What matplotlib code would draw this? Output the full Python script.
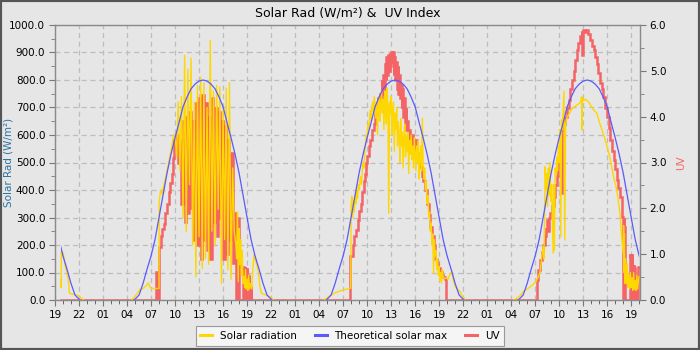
import numpy as np
import matplotlib.pyplot as plt
from matplotlib.patches import Rectangle
from matplotlib.lines import Line2D
from matplotlib.ticker import MultipleLocator, FormatStrFormatter

# time axis: hours counted from 19:00 of the first (partial) day
tick_labels = ['19', '22', '01', '04', '07', '10', '13', '16'] * 3 + ['19']

# theoretical clear-sky maximum, hours from solar noon -> W/m2
clear_offset = [-8.6, -8, -7.5, -7, -6.5, -6, -5.5, -5, -4.5, -4, -3.5, -3, -2.5, -2, -1.5, -1, -0.5, 0,
                0.5, 1, 1.5, 2, 2.5, 3, 3.5, 4, 4.5, 5, 5.5, 6, 6.5, 7, 7.5, 8, 8.6]
clear_wm2 = [0, 18, 60, 112, 160, 220, 300, 380, 462, 530, 590, 645, 703, 738, 768, 785, 796, 800,
             796, 785, 768, 738, 703, 645, 590, 530, 462, 380, 300, 220, 160, 112, 60, 18, 0]
solar_noon = [-5.5, 18.5, 42.5, 66.5]
data_start, data_end = 0.8, 73.0

# solar radiation (W/m2)
sun0_t = [0.72, 0.76, 0.80, 0.9, 1.04, 1.25, 1.46, 1.67, 1.79, 2.0, 2.4, 2.7, 3.1, 3.55]
sun0_w = [72, 45, 178, 175, 168, 127, 103, 73, 26, 22, 20, 18, 12, 0]

sun1_t = [9.55, 9.9, 10.3, 10.6, 11.0, 11.4, 11.67, 11.85, 12.0, 12.5, 13.0,
          13.02, 13.2, 13.4, 13.6, 13.8, 14.0, 14.2, 14.4, 14.6, 14.8]
sun1_w = [0, 10, 25, 38, 42, 52, 62, 48, 42, 42, 42,
          360, 400, 385, 420, 440, 470, 500, 530, 560, 600]
# 12-minute readings from 15.0 h
sun1_noisy = [600, 520, 720, 470, 740, 300, 890, 250, 840, 420,
              880, 200, 720, 85, 780, 230, 810, 115, 790, 150,
              700, 130, 945, 250, 760, 200, 780, 330, 775, 60,
              690, 220, 770, 110, 790, 75, 480, 250, 200]
sun1_eve_t = [22.7, 22.8, 22.9, 23.0, 23.1, 23.2, 23.3, 23.4, 23.5, 23.6, 23.7, 23.8, 23.9, 24.0,
              24.1, 24.2, 24.3, 24.4, 24.5, 24.6, 24.7, 24.8, 24.9, 25.0, 25.2, 25.4, 25.6, 25.8,
              26.2, 26.6, 27.0, 27.3]
sun1_eve_w = [150, 320, 67, 260, 130, 220, 90, 180, 60, 85, 45, 110, 40, 75,
              35, 90, 40, 60, 50, 40, 100, 140, 165, 150, 130, 105, 50, 24,
              20, 15, 8, 0]

sun2_t = [33.65, 34.0, 34.5, 35.0, 35.5, 36.0, 36.5, 36.95]
sun2_w = [0, 8, 18, 26, 32, 36, 40, 43]
# 6-minute readings from 37.0 h
sun2_noisy = [340, 376, 300, 360, 320, 380, 350, 400, 370, 420,
              400, 430, 450, 420, 470, 500, 480, 540, 560, 600,
              590, 640, 620, 660, 690, 650, 700, 720, 680, 740,
              700, 660, 720, 600, 690, 740, 650, 710, 760, 680,
              730, 620, 760, 690, 640, 770, 700, 315, 720, 680,
              740, 600, 690, 720, 540, 680, 620, 700, 560, 650,
              600, 500, 660, 560, 610, 480, 590, 640, 520, 600,
              540, 610, 460, 580, 530, 600, 510, 560, 480, 590,
              530, 470, 560, 500, 580, 440, 520, 560, 470, 660,
              500, 440, 480, 400, 430, 350, 380, 300, 320, 250,
              280, 200, 240, 97, 220, 160, 180, 110, 150, 90,
              121, 70, 100, 61, 110]
sun2_eve_t = [48.5, 48.7, 48.9, 49.1, 49.3, 49.6, 49.8, 50.0, 50.3, 50.6, 50.9, 51.25]
sun2_eve_w = [84, 78, 80, 75, 90, 103, 70, 50, 40, 30, 15, 0]

sun3_t = [57.3, 57.8, 58.2, 58.5, 59.0, 59.4, 59.8, 60.1, 60.4, 60.6, 60.8, 61.0, 61.1, 61.2,
          61.25, 61.35, 61.45, 61.55, 61.65, 61.75, 61.85, 61.95, 62.05, 62.15, 62.25, 62.3,
          62.4, 62.5, 62.6, 62.7, 62.8, 62.9, 63.0, 63.1, 63.2, 63.3, 63.4, 63.5, 63.6, 63.7,
          63.8, 63.9, 64.0, 64.3, 64.6, 65.0, 65.4, 65.7, 65.8, 65.85, 65.9, 66.1, 66.3, 66.5,
          66.8, 67.0, 67.3, 67.7, 68.1, 68.5, 69.0, 69.4, 69.8, 70.2, 70.6, 70.8, 71.0, 71.05,
          71.1, 71.15, 71.2, 71.3, 71.4, 71.5, 71.6, 71.7, 71.8, 71.9, 72.0, 72.1, 72.2, 72.3,
          72.4, 72.5, 72.6, 72.7, 72.8, 72.95]
sun3_w = [0, 8, 18, 30, 40, 48, 58, 67, 85, 100, 150, 194, 150, 390,
          485, 400, 460, 340, 480, 380, 500, 360, 420, 300, 170, 420,
          180, 480, 450, 520, 470, 560, 500, 620, 230, 655, 620, 690, 760, 218,
          640, 655, 665, 680, 695, 705, 712, 720, 740, 618, 735, 725, 730, 725,
          715, 705, 691, 680, 640, 606, 558, 509, 448, 400, 315, 230, 170, 270,
          100, 240, 60, 150, 60, 130, 45, 90, 40, 100, 45, 80, 35, 100,
          40, 70, 35, 90, 40, 85]

# UV index
uv1_t = [0.8, 12.6, 12.65, 12.7, 12.75, 12.8, 12.85, 12.9, 12.95, 13.0,
         13.04, 13.2, 13.4, 13.6, 13.8, 14.0, 14.2, 14.4, 14.6, 14.8, 14.9]
uv1_v = [0, 0, 0.62, 0, 0.6, 0, 0.62, 0, 0.58, 0,
         1.16, 1.4, 1.55, 1.65, 1.9, 2.1, 2.35, 2.55, 2.75, 3.1, 3.5]
# 12-minute readings from 15.0 h
uv1_noisy = [3.3, 3.6, 3.0, 3.5, 2.1, 3.9, 1.7, 4.0, 1.9, 4.1,
             2.0, 3.9, 1.3, 4.3, 1.2, 4.4, 0.9, 4.47, 1.3, 4.3,
             1.1, 4.0, 0.9, 4.4, 1.7, 4.2, 1.4, 4.1, 1.8, 3.9,
             0.9, 3.8, 1.0, 3.5, 1.3, 3.2, 0.8, 1.9, 1.5]
# 3-minute readings from 22.65 h (sensor flickering at dusk)
uv1_dusk_a = [0, 1.7, 0, 1.5, 0, 1.8, 0, 1.2, 0, 0]
# 3-minute readings from 23.55 h
uv1_dusk_b = [0.73, 0, 0.7, 0, 0.72, 0, 0.65, 0, 0.7, 0,
              0.55, 0, 0.5, 0, 0.55, 0, 0.35, 0, 0.3, 0]

uv2_t = [36.9, 36.92, 37.0, 37.2, 37.4, 37.6, 37.8, 38.0, 38.2, 38.4, 38.6, 38.75, 38.9,
         39.0, 39.2, 39.4, 39.6, 39.8, 40.0, 40.2, 40.4]
uv2_v = [0, 0.95, 0.95, 1.2, 1.4, 1.53, 1.75, 1.95, 2.1, 2.35, 2.6, 2.76, 3.0,
         3.15, 3.35, 3.5, 3.7, 3.85, 4.05, 4.2, 4.4]
# 6-minute readings from 40.6 h
uv2_noisy = [4.5, 4.3, 4.8, 4.5, 4.9, 4.6, 5.15, 4.8, 5.3, 4.9,
             5.35, 5.0, 5.4, 5.1, 5.42, 5.2, 5.42, 4.9, 5.3, 4.8,
             5.2, 4.6, 5.1, 4.5, 4.9, 4.4, 4.7, 4.2, 4.6, 4.0,
             4.4, 3.85, 4.2, 3.7, 3.9, 3.5, 3.7, 3.4]
uv2_eve_t = [44.5, 44.7, 44.8, 45.0, 45.2, 45.4, 45.6, 45.8, 46.0, 46.2, 46.5, 46.7, 46.9,
             47.1, 47.3, 47.5, 47.7, 47.9, 48.1, 48.3, 48.5, 48.75, 48.8]
uv2_eve_v = [3.6, 3.3, 3.34, 3.5, 3.2, 3.05, 2.9, 2.7, 2.6, 2.4, 2.1, 1.85, 1.6,
             1.4, 1.2, 0.9, 0.8, 0.7, 0.62, 0.55, 0.5, 0.45, 0]

uv3_t = [60.15, 60.2, 60.4, 60.6, 60.8, 61.0, 61.2, 61.4, 61.5, 61.6, 61.7, 61.9, 62.1,
         62.3, 62.5, 62.7, 62.9, 63.1, 63.2, 63.3, 63.5, 63.75, 64.0, 64.2, 64.4, 64.6,
         64.8, 65.0, 65.2, 65.4, 65.6, 65.8, 65.9, 66.0, 66.2, 66.4, 66.6, 66.8, 66.9,
         67.1, 67.3, 67.5, 67.7, 67.9, 68.1, 68.3, 68.5, 68.75, 69.0, 69.2, 69.4, 69.6,
         69.8, 70.0, 70.2, 70.4, 70.6, 70.8, 71.0, 71.02, 71.05, 71.1, 71.15, 71.2, 71.75]
uv3_v = [0, 0.44, 0.65, 0.87, 1.05, 1.2, 1.4, 1.55, 1.75, 1.5, 1.8, 1.9, 2.05,
         2.25, 2.5, 2.7, 3.0, 3.27, 2.33, 3.7, 3.85, 4.0, 4.2, 4.36, 4.6, 4.8,
         5.0, 5.24, 5.45, 5.6, 5.75, 5.88, 5.35, 5.9, 5.85, 5.9, 5.8, 5.72, 5.67,
         5.55, 5.45, 5.3, 5.16, 4.95, 4.73, 4.6, 4.44, 4.2, 4.0, 3.75, 3.49, 3.25,
         3.05, 2.85, 2.62, 2.45, 2.25, 1.82, 1.38, 0, 1.8, 0, 1.6, 0, 0]
# 3-minute readings from 71.8 h
uv3_dusk = [1.0, 0, 0.95, 0, 0.9, 0, 1.0, 0, 0.76, 0, 0.76, 0,
            0.7, 0, 0.51, 0, 0.55, 0, 0.5, 0, 0.73, 0, 0.73, 0.73]

# colours
c_sun = '#ffd700'
c_clear = '#5a5aff'
c_uv = '#f46466'
bg = '#e6e6e6'

# ---- assemble series ----
nan = [np.nan]
sun_t = (sun0_t + nan + sun1_t + list(15.0 + 0.2 * np.arange(len(sun1_noisy))) + sun1_eve_t + nan
         + sun2_t + list(37.0 + 0.1 * np.arange(len(sun2_noisy))) + sun2_eve_t + nan + sun3_t)
sun_w = (sun0_w + nan + sun1_w + sun1_noisy + sun1_eve_w + nan
         + sun2_w + sun2_noisy + sun2_eve_w + nan + sun3_w)

uv_t = (uv1_t + list(15.0 + 0.2 * np.arange(len(uv1_noisy)))
        + list(22.65 + 0.05 * np.arange(len(uv1_dusk_a)))
        + list(23.55 + 0.05 * np.arange(len(uv1_dusk_b)))
        + uv2_t + list(40.6 + 0.1 * np.arange(len(uv2_noisy))) + uv2_eve_t
        + uv3_t + list(71.8 + 0.05 * np.arange(len(uv3_dusk))))
uv_v = (uv1_v + uv1_noisy + uv1_dusk_a + uv1_dusk_b
        + uv2_v + uv2_noisy + uv2_eve_v + uv3_v + uv3_dusk)

clear_t, clear_w = [], []
for noon in solar_noon:
    clear_t += [noon + o for o in clear_offset] + nan
    clear_w += clear_wm2 + nan

# ---- figure ----
fig = plt.figure(figsize=(7, 3.5), dpi=100, facecolor=bg)
rect = [55 / 700, 50 / 350, 585 / 700, 275 / 350]
axg = fig.add_axes(rect)
ax2 = fig.add_axes(rect, sharex=axg)
ax = fig.add_axes(rect, sharex=axg)
axg.set_zorder(0)
ax2.set_zorder(1)
ax.set_zorder(2)
axg.set_facecolor(bg)
ax2.patch.set_visible(False)
ax.patch.set_visible(False)

# grid layer
axg.set_xlim(0, 73.1)
axg.set_ylim(0, 1000)
axg.xaxis.set_major_locator(MultipleLocator(3))
axg.yaxis.set_major_locator(MultipleLocator(100))
axg.grid(True, color='#bdbdbd', linestyle=(0, (4, 3)), linewidth=0.9)
axg.tick_params(left=False, bottom=False, labelleft=False, labelbottom=False)
for s in axg.spines.values():
    s.set_visible(False)

# UV
ax2.plot(uv_t, uv_v, color=c_uv, lw=1.8, drawstyle='steps-post', solid_joinstyle='miter')
ax2.set_ylim(0, 6)
ax2.yaxis.tick_right()
ax2.yaxis.set_label_position('right')
ax2.yaxis.set_major_locator(MultipleLocator(1))
ax2.yaxis.set_minor_locator(MultipleLocator(0.5))
ax2.yaxis.set_major_formatter(FormatStrFormatter('%.1f'))
ax2.tick_params(axis='y', which='major', length=4, color='#777777', labelsize=7.5, pad=3)
ax2.tick_params(axis='y', which='minor', length=3, color='#777777')
ax2.tick_params(axis='x', bottom=False, labelbottom=False)
ax2.set_ylabel('UV', color=c_uv, fontsize=7.5)
ax2.yaxis.set_label_coords(1.062, 0.5)
for s in ax2.spines.values():
    s.set_visible(False)

# solar radiation + theoretical max
ax.plot(sun_t, sun_w, color=c_sun, lw=1.0)
clear_line, = ax.plot(clear_t, clear_w, color=c_clear, lw=0.9)
clip = Rectangle((data_start, -20), data_end - data_start, 1100, transform=ax.transData)
clear_line.set_clip_path(clip)
ax.set_ylim(0, 1000)
ax.yaxis.set_major_locator(MultipleLocator(100))
ax.yaxis.set_minor_locator(MultipleLocator(50))
ax.yaxis.set_major_formatter(FormatStrFormatter('%.1f'))
ax.set_xticks(np.arange(0, 73, 3))
ax.set_xticklabels(tick_labels)
ax.xaxis.set_minor_locator(MultipleLocator(1))
ax.tick_params(axis='both', which='major', length=4, color='#777777', labelsize=7.5, pad=3)
ax.tick_params(axis='both', which='minor', length=3, color='#777777')
ax.set_ylabel('Solar Rad (W/m²)', color='#2a72a6', fontsize=7.5)
ax.yaxis.set_label_coords(-0.071, 0.5)
for s in ax.spines.values():
    s.set_color('#8a8a8a')
    s.set_linewidth(1.0)

ax.set_title('Solar Rad (W/m²) &  UV Index', fontsize=9, pad=6)

handles = [Line2D([], [], color=c_sun, lw=2.2),
           Line2D([], [], color=c_clear, lw=2.2),
           Line2D([], [], color=c_uv, lw=2.2)]
leg = fig.legend(handles, ['Solar radiation', 'Theoretical solar max', 'UV'],
                 loc='center', bbox_to_anchor=(0.5, 14 / 350), ncol=3, fontsize=7.5,
                 frameon=True, fancybox=False, edgecolor='#999999', facecolor='#f5f5f5',
                 framealpha=1, handlelength=1.15, columnspacing=1.7, borderpad=0.45,
                 handletextpad=0.75)
leg.get_frame().set_linewidth(0.8)

fig.patches.append(Rectangle((0, 0), 1, 1, transform=fig.transFigure, fill=False,
                             edgecolor='#555555', linewidth=3))

fig.savefig('out.png', dpi=100, facecolor=bg)
